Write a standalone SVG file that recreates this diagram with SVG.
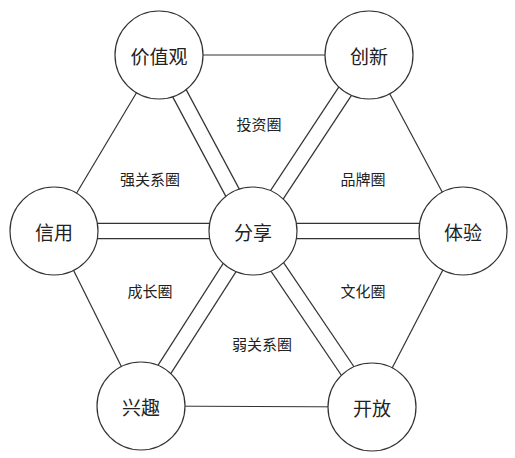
<svg xmlns="http://www.w3.org/2000/svg" width="515" height="458" viewBox="0 0 515 458">
<style>
.side{stroke:#333;stroke-width:1.2;fill:none}
.spokeO{stroke:#333;stroke-width:16.5;fill:none}
.spokeI{stroke:#fff;stroke-width:14;fill:none}
.node circle{fill:#fff;stroke:#333;stroke-width:1.2}
.node text{font-family:"Noto Sans CJK SC","Noto Sans CJK JP",sans-serif;font-size:19px;fill:#222;text-anchor:middle;dominant-baseline:central}
.lbl{font-family:"Noto Sans CJK SC","Noto Sans CJK JP",sans-serif;font-size:15px;fill:#222;text-anchor:middle;dominant-baseline:central}
</style>
<rect width="515" height="458" fill="#fff"/>
<g id="connectors">
<line class="side" x1="159" y1="55" x2="369" y2="55"/>
<line class="side" x1="159" y1="55" x2="54" y2="231"/>
<line class="side" x1="369" y1="55" x2="463" y2="231"/>
<line class="side" x1="54" y1="231" x2="141" y2="406"/>
<line class="side" x1="463" y1="231" x2="372" y2="407"/>
<line class="side" x1="141" y1="406" x2="372" y2="407"/>
<g id="spokes">
<line class="spokeO" x1="253" y1="231" x2="159" y2="55"/>
<line class="spokeO" x1="253" y1="231" x2="369" y2="55"/>
<line class="spokeO" x1="253" y1="231" x2="54" y2="231"/>
<line class="spokeO" x1="253" y1="231" x2="463" y2="231"/>
<line class="spokeO" x1="253" y1="231" x2="141" y2="406"/>
<line class="spokeO" x1="253" y1="231" x2="372" y2="407"/>
<line class="spokeI" x1="253" y1="231" x2="159" y2="55"/>
<line class="spokeI" x1="253" y1="231" x2="369" y2="55"/>
<line class="spokeI" x1="253" y1="231" x2="54" y2="231"/>
<line class="spokeI" x1="253" y1="231" x2="463" y2="231"/>
<line class="spokeI" x1="253" y1="231" x2="141" y2="406"/>
<line class="spokeI" x1="253" y1="231" x2="372" y2="407"/>
</g>
</g>
<g id="labels">
<text class="lbl" x="259" y="123">投资圈</text>
<text class="lbl" x="150" y="178">强关系圈</text>
<text class="lbl" x="363" y="178">品牌圈</text>
<text class="lbl" x="150" y="290">成长圈</text>
<text class="lbl" x="363" y="290">文化圈</text>
<text class="lbl" x="262" y="343">弱关系圈</text>
</g>
<g id="node-jiazhiguan" class="node"><circle cx="159" cy="55" r="44"/><text x="159" y="55">价值观</text></g>
<g id="node-chuangxin" class="node"><circle cx="369" cy="55" r="44"/><text x="369" y="55">创新</text></g>
<g id="node-xinyong" class="node"><circle cx="54" cy="231" r="44"/><text x="54" y="231">信用</text></g>
<g id="node-fenxiang" class="node"><circle cx="253" cy="231" r="44"/><text x="253" y="231">分享</text></g>
<g id="node-tiyan" class="node"><circle cx="463" cy="231" r="44"/><text x="463" y="231">体验</text></g>
<g id="node-xingqu" class="node"><circle cx="141" cy="406" r="44"/><text x="141" y="406">兴趣</text></g>
<g id="node-kaifang" class="node"><circle cx="372" cy="407" r="44"/><text x="372" y="407">开放</text></g>
</svg>
